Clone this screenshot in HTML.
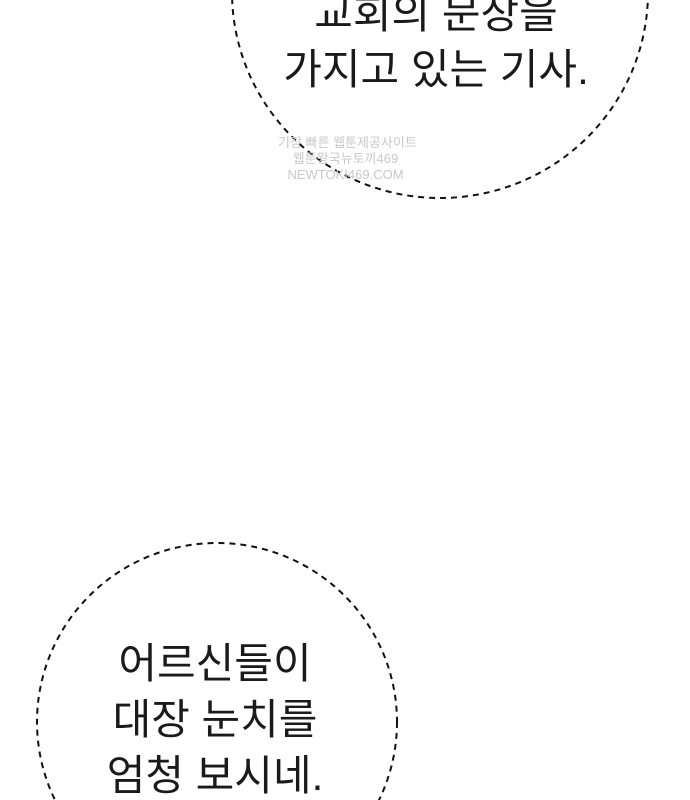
<!DOCTYPE html>
<html><head><meta charset="utf-8"><style>
html,body{margin:0;padding:0;background:#fff;width:690px;height:800px;overflow:hidden;}
body{position:relative;font-family:"Liberation Sans","Noto Sans CJK KR","NanumGothic",sans-serif;}
.t{position:absolute;font-size:42px;color:#1a1a1a;text-align:center;white-space:nowrap;line-height:56px;overflow:hidden;}
.wm{position:absolute;color:#c8c8c8;font-size:13px;line-height:16px;text-align:center;white-space:nowrap;}
</style></head><body>
<svg width="690" height="800" style="position:absolute;left:0;top:0">
<ellipse cx="440" cy="-8" rx="208" ry="206" fill="none" stroke="#111" stroke-width="2" stroke-dasharray="6,5"/>
<ellipse cx="217" cy="722" rx="180" ry="179" fill="none" stroke="#111" stroke-width="2" stroke-dasharray="6,5"/>
</svg>
<div class="t" style="left:236px;width:400px;top:-14px;height:120px;">교회의 문장을<br>가지고 있는 기사.</div>
<div class="wm" style="left:278px;width:135px;top:135px;">기장 빠른 웹툰제공사이트<br>웹툰왕국뉴토끼469<br>NEWTOKI469.COM</div>
<div class="t" style="left:15px;width:400px;top:636px;height:164px;">어르신들이<br>대장 눈치를<br>엄청 보시네.</div>
</body></html>
